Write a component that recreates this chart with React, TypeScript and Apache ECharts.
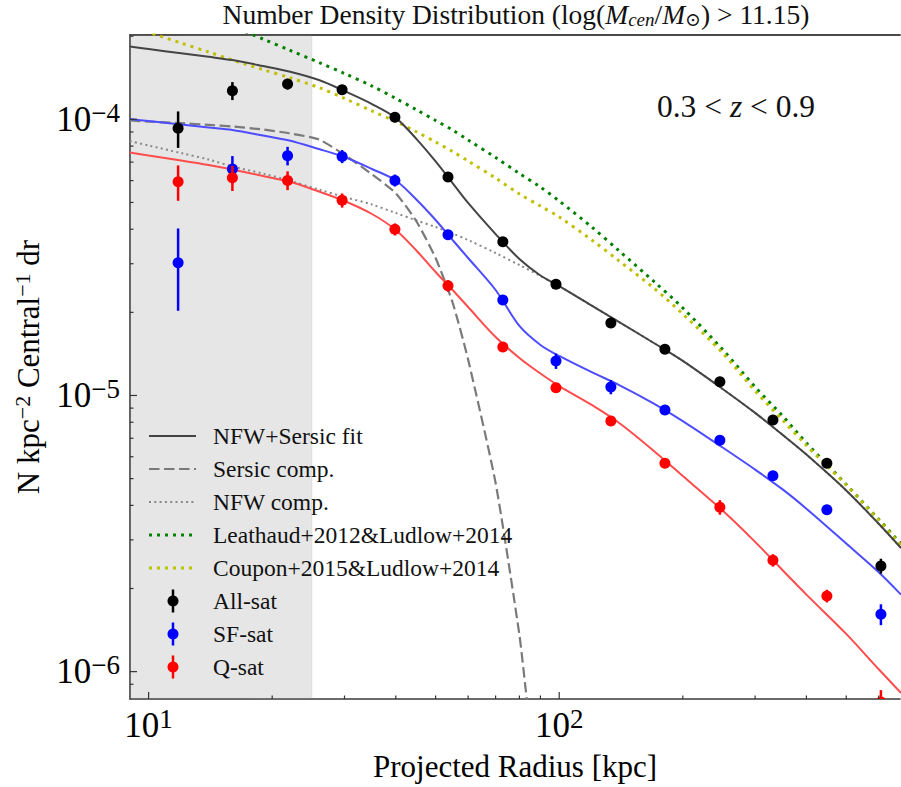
import React, { useEffect, useRef } from "react";
import * as echarts from "echarts";

// ---------------- data ----------------
const radii = [11.8, 16.0, 21.8, 29.6, 39.8, 53.6, 72.9, 98.2, 133.6, 180.9, 246.2, 331.5, 448.6, 607.4];
const allSat = [9.28e-5, 1.269e-4, 1.342e-4, 1.28e-4, 1.017e-4, 6.18e-5, 3.6e-5, 2.527e-5, 1.83e-5, 1.47e-5, 1.122e-5, 8.15e-6, 5.68e-6, 2.414e-6];
const allSatErr = [1.4e-5, 9.5e-6, 6e-6, 4.5e-6, 3.5e-6, 2e-6, 1e-6, 6e-7, 4e-7, 3e-7, 2.5e-7, 2e-7, 1.5e-7, 1.5e-7];
const sfSat = [3.026e-5, 6.61e-5, 7.38e-5, 7.34e-5, 6.01e-5, 3.82e-5, 2.217e-5, 1.333e-5, 1.074e-5, 8.86e-6, 6.88e-6, 5.12e-6, 3.86e-6, 1.613e-6];
const sfSatErr = [1.0e-5, 7.5e-6, 5.7e-6, 4e-6, 3e-6, 1.5e-6, 9e-7, 8.5e-7, 6.4e-7, 3e-7, 2e-7, 1.5e-7, 1.2e-7, 1.4e-7];
const qSat = [5.94e-5, 6.14e-5, 6.01e-5, 5.09e-5, 3.996e-5, 2.497e-5, 1.498e-5, 1.067e-5, 8.08e-6, 5.68e-6, 3.94e-6, 2.53e-6, 1.88e-6, 7.77e-7];
const qSatErr = [8.7e-6, 6.4e-6, 4.7e-6, 3e-6, 2e-6, 1.2e-6, 6e-7, 4e-7, 3e-7, 2e-7, 2.4e-7, 1.3e-7, 1e-7, 8e-8];

const modelRadii = [9, 10, 12, 14, 16, 19, 22, 26, 30, 35, 40, 45, 50, 55, 60, 70, 80, 90, 100, 120, 140, 170, 200, 250, 300, 350, 400, 500, 600, 680];
const fitAll = [1.835e-4, 1.797e-4, 1.735e-4, 1.684e-4, 1.639e-4, 1.56e-4, 1.491e-4, 1.388e-4, 1.266e-4, 1.136e-4, 1.012e-4, 8.46e-5, 7.04e-5, 5.88e-5, 4.98e-5, 3.84e-5, 3.12e-5, 2.72e-5, 2.49e-5, 2.117e-5, 1.845e-5, 1.549e-5, 1.334e-5, 1.056e-5, 8.65e-6, 7.2e-6, 6.11e-6, 4.53e-6, 3.43e-6, 2.8e-6];
const fitSF = [1.0025e-4, 9.859e-5, 9.576e-5, 9.34e-5, 9.147e-5, 8.737e-5, 8.38e-5, 7.805e-5, 7.305e-5, 6.607e-5, 6.005e-5, 5.103e-5, 4.319e-5, 3.656e-5, 3.146e-5, 2.41e-5, 1.785e-5, 1.524e-5, 1.39e-5, 1.214e-5, 1.091e-5, 9.35e-6, 8.08e-6, 6.48e-6, 5.39e-6, 4.57e-6, 3.89e-6, 2.91e-6, 2.29e-6, 1.9e-6];
const fitQ = [7.581e-5, 7.395e-5, 7.094e-5, 6.832e-5, 6.578e-5, 6.233e-5, 5.953e-5, 5.476e-5, 5.06e-5, 4.541e-5, 3.973e-5, 3.336e-5, 2.799e-5, 2.41e-5, 2.091e-5, 1.628e-5, 1.367e-5, 1.201e-5, 1.082e-5, 9.24e-6, 7.95e-6, 6.3e-6, 5.11e-6, 3.83e-6, 2.95e-6, 2.33e-6, 1.9e-6, 1.37e-6, 1.02e-6, 8.37e-7];
const nfwComp = [8.345e-5, 8.038e-5, 7.551e-5, 7.154e-5, 6.747e-5, 6.364e-5, 6.004e-5, 5.568e-5, 5.233e-5, 4.914e-5, 4.578e-5, 4.301e-5, 4.074e-5, 3.859e-5, 3.656e-5, 3.28e-5, 2.968e-5, 2.708e-5, 2.49e-5, 2.117e-5, 1.845e-5, 1.549e-5, 1.334e-5, 1.056e-5, 8.65e-6, 7.2e-6, 6.11e-6, 4.53e-6, 3.43e-6, 2.8e-6];
const sersicRadii = [9, 10, 12, 14, 16, 19, 22, 26, 30, 35, 40, 45, 50, 55, 60, 70, 80, 83.3, 86];
const sersicComp = [9.901e-5, 9.818e-5, 9.681e-5, 9.552e-5, 9.417e-5, 9.185e-5, 8.906e-5, 8.451e-5, 7.439e-5, 6.322e-5, 5.397e-5, 4.248e-5, 3.146e-5, 2.171e-5, 1.349e-5, 4.82e-6, 1.358e-6, 8.03e-7, 5.3e-7];
const leauthaudRadii = [14, 16, 19, 22, 26, 30, 35, 40, 45, 50, 55, 60, 70, 80, 90, 100, 120, 140, 170, 200, 250, 300, 350, 400, 500, 600, 680];
const leauthaud = [2.366e-4, 2.168e-4, 1.953e-4, 1.782e-4, 1.606e-4, 1.465e-4, 1.32e-4, 1.19e-4, 1.081e-4, 9.901e-5, 9.148e-5, 8.415e-5, 7.274e-5, 6.365e-5, 5.686e-5, 5.06e-5, 4.074e-5, 3.336e-5, 2.587e-5, 2.074e-5, 1.467e-5, 1.074e-5, 8.43e-6, 6.73e-6, 4.76e-6, 3.56e-6, 2.9e-6];
const coupon = [2.177e-4, 2.065e-4, 1.889e-4, 1.753e-4, 1.639e-4, 1.514e-4, 1.417e-4, 1.303e-4, 1.19e-4, 1.072e-4, 9.818e-5, 8.995e-5, 8.276e-5, 7.646e-5, 7.063e-5, 6.129e-5, 5.365e-5, 4.853e-5, 4.428e-5, 3.656e-5, 3.069e-5, 2.449e-5, 1.973e-5, 1.425e-5, 1.038e-5, 8.15e-6, 6.59e-6, 4.74e-6, 3.54e-6, 2.87e-6];

const shadeMaxRadius = 25;
const xMajorTicks = [10, 100];
const xMinorTicks = [20, 30, 40, 50, 60, 70, 80, 90, 200, 300, 400, 500, 600];
const yMajorTicks = [1e-6, 1e-5, 1e-4];
const yMinorTicks = [9e-7, 2e-6, 3e-6, 4e-6, 5e-6, 6e-6, 7e-6, 8e-6, 9e-6, 2e-5, 3e-5, 4e-5, 5e-5, 6e-5, 7e-5, 8e-5, 9e-5, 2e-4];

const legendLabels = ["NFW+Sersic fit", "Sersic comp.", "NFW comp.", "Leathaud+2012&Ludlow+2014", "Coupon+2015&Ludlow+2014", "All-sat", "SF-sat", "Q-sat"];

const X_MIN = 9.01;
const X_MAX = 676;
const Y_MIN = 7.96e-7;
const Y_MAX = 2.02e-4;

// ---------------- styles ----------------
const FONT = "Liberation Serif, DejaVu Serif, serif";
const C_FIT = "#444444";
const C_SF = "#4d4dff";
const C_Q = "#ff4d4d";
const lineStyles = [
  { color: C_FIT, width: 2, dash: null as number[] | null },
  { color: "#7a7a7a", width: 2.2, dash: [10.5, 4.5] },
  { color: "#888888", width: 2, dash: [2, 3.3] },
  { color: "#008000", width: 3, dash: [3, 5] },
  { color: "#bfbf00", width: 3, dash: [3, 5] },
];
const pointColors = ["#000000", "#0000ff", "#ff0000"];

const pairs = (xs: number[], ys: number[]) => xs.map((x, i) => [x, ys[i]]);

function lineSeries(name: string, data: number[][], st: any, z: number, smooth: number | boolean = false) {
  return {
    type: "line",
    name,
    data,
    showSymbol: false,
    symbol: "none",
    clip: true,
    silent: true,
    smooth,
    z,
    lineStyle: { color: st.color, width: st.width, type: st.dash || "solid", cap: "butt" },
  };
}

function errSeries(name: string, vals: number[], errs: number[], color: string) {
  return {
    type: "custom",
    name,
    clip: true,
    silent: true,
    z: 6,
    data: radii.map((r, i) => [r, vals[i], errs[i]]),
    renderItem: (_p: any, api: any) => {
      const r = api.value(0);
      const v = api.value(1);
      const e = api.value(2);
      const c = api.coord([r, v]);
      const top = api.coord([r, v + e]);
      const bot = api.coord([r, v - e]);
      return {
        type: "group",
        children: [
          { type: "line", shape: { x1: c[0], y1: top[1], x2: c[0], y2: bot[1] }, style: { stroke: color, lineWidth: 2.5 } },
          { type: "circle", shape: { cx: c[0], cy: c[1], r: 5.5 }, style: { fill: color } },
        ],
      };
    },
  };
}

function powLabel(v: number) {
  const l = Math.log10(v);
  const e = Math.round(l);
  if (Math.abs(l - e) > 1e-4) return "";
  return `{b|10}{s|${e < 0 ? "\u2212" : ""}${Math.abs(e)}}`;
}

const labelRich = {
  b: { fontSize: 35, fontFamily: FONT, color: "#000", lineHeight: 40 },
  s: { fontSize: 27, fontFamily: FONT, color: "#000", lineHeight: 18, verticalAlign: "top" },
};

export default function App() {
  const ref = useRef<HTMLDivElement>(null);
  useEffect(() => {
    if (!ref.current) return;
    const chart = echarts.init(ref.current, undefined, { renderer: "svg" });

    const tickData = [
      ...xMajorTicks.map((v) => [v, Y_MIN, 0]),
      ...xMinorTicks.map((v) => [v, Y_MIN, 1]),
      ...yMajorTicks.map((v) => [X_MIN, v, 2]),
      ...yMinorTicks.map((v) => [X_MIN, v, 3]),
    ];

    const legendTop = 436;
    const legendStep = 33;
    const legendEls: any[] = [];
    legendLabels.forEach((lab, i) => {
      const y = legendTop + legendStep * i;
      if (i < 5) {
        const st = lineStyles[i];
        legendEls.push({
          type: "line",
          shape: { x1: 149, y1: y, x2: 196, y2: y },
          style: { stroke: st.color, lineWidth: st.width, lineDash: st.dash || undefined, lineCap: "butt" },
          z: 100,
        });
      } else {
        const col = pointColors[i - 5];
        legendEls.push({ type: "line", shape: { x1: 173, y1: y - 11.5, x2: 173, y2: y + 11.5 }, style: { stroke: col, lineWidth: 2.5 }, z: 100 });
        legendEls.push({ type: "circle", shape: { cx: 173, cy: y, r: 5.5 }, style: { fill: col }, z: 100 });
      }
      legendEls.push({
        type: "text",
        x: 213,
        y,
        z: 100,
        style: { text: lab, fontSize: 23.5, fontFamily: FONT, fill: "#111", textAlign: "left", textVerticalAlign: "middle", align: "left", verticalAlign: "middle" },
      });
    });

    const option: any = {
      animation: false,
      backgroundColor: "#ffffff",
      grid: { left: 130, right: 1, top: 35, bottom: 88, outerBoundsMode: "none", containLabel: false },
      xAxis: [
        {
          type: "log",
          logBase: 10,
          min: X_MIN,
          max: X_MAX,
          position: "bottom",
          axisLine: { show: true, onZero: false, lineStyle: { color: "#3a3a3a", width: 1.6 } },
          axisTick: { show: false },
          minorTick: { show: false },
          splitLine: { show: false },
          axisLabel: { margin: 6, formatter: powLabel, rich: labelRich, showMinLabel: false, showMaxLabel: false },
          name: "Projected Radius [kpc]",
          nameLocation: "middle",
          nameGap: 50,
          nameTextStyle: { fontSize: 31, fontFamily: FONT, color: "#000", lineHeight: 34 },
        },
        {
          type: "log",
          logBase: 10,
          min: X_MIN,
          max: X_MAX,
          position: "top",
          axisLine: { show: true, onZero: false, lineStyle: { color: "#4a4a4a", width: 1.8 } },
          axisTick: { show: false },
          axisLabel: { show: false },
          splitLine: { show: false },
        },
      ],
      yAxis: {
        type: "log",
        logBase: 10,
        min: Y_MIN,
        max: Y_MAX,
        axisLine: { show: true, onZero: false, lineStyle: { color: "#3a3a3a", width: 1.6 } },
        axisTick: { show: false },
        minorTick: { show: false },
        splitLine: { show: false },
        axisLabel: { margin: 10, formatter: powLabel, rich: labelRich, showMinLabel: false, showMaxLabel: false },
        name: "N kpc{s|\u22122} Central{s|\u22121} dr",
        nameLocation: "middle",
        nameRotate: 90,
        nameGap: 82,
        nameTextStyle: {
          fontSize: 31,
          fontFamily: FONT,
          color: "#000",
          lineHeight: 34,
          rich: { s: { fontSize: 22, fontFamily: FONT, color: "#000", lineHeight: 16, verticalAlign: "top" } },
        },
      },
      graphic: [
        {
          type: "text",
          x: 516,
          y: 14,
          style: {
            text: "Number Density Distribution (log({i|M}{sub|cen}/{i|M}{sub|\u2299}) > 11.15)",
            fontSize: 27.5,
            fontFamily: FONT,
            fill: "#111",
            textAlign: "center",
            textVerticalAlign: "middle",
            align: "center",
            verticalAlign: "middle",
            rich: {
              i: { fontSize: 27.5, fontFamily: FONT, fontStyle: "italic", fill: "#111", lineHeight: 30 },
              sub: { fontSize: 19, fontFamily: FONT, fontStyle: "italic", fill: "#111", lineHeight: 14, verticalAlign: "bottom" },
            },
          },
        },
        {
          type: "text",
          x: 736,
          y: 106,
          style: {
            text: "0.3 < {i|z} < 0.9",
            fontSize: 31.5,
            fontFamily: FONT,
            fill: "#111",
            textAlign: "center",
            textVerticalAlign: "middle",
            align: "center",
            verticalAlign: "middle",
            rich: { i: { fontSize: 31.5, fontFamily: FONT, fontStyle: "italic", fill: "#111" } },
          },
        },
        ...legendEls,
      ],
      series: [
        {
          type: "line",
          name: "shade",
          data: [],
          silent: true,
          z: 0,
          markArea: {
            silent: true,
            itemStyle: { color: "rgba(128,128,128,0.2)", borderColor: "rgba(128,128,128,0.12)", borderWidth: 1 },
            data: [[{ xAxis: X_MIN }, { xAxis: shadeMaxRadius }]],
          },
        },
        lineSeries(legendLabels[3], pairs(leauthaudRadii, leauthaud), lineStyles[3], 2, 0.3),
        lineSeries(legendLabels[4], pairs(modelRadii, coupon), lineStyles[4], 2, 0.3),
        lineSeries(legendLabels[2], pairs(modelRadii, nfwComp), lineStyles[2], 3, 0.3),
        lineSeries(legendLabels[1], pairs(sersicRadii, sersicComp), lineStyles[1], 3, 0.2),
        lineSeries(legendLabels[0], pairs(modelRadii, fitAll), lineStyles[0], 4, 0.3),
        lineSeries("SF fit", pairs(modelRadii, fitSF), { color: C_SF, width: 2 }, 4, 0.3),
        lineSeries("Q fit", pairs(modelRadii, fitQ), { color: C_Q, width: 2 }, 4, 0.3),
        errSeries(legendLabels[5], allSat, allSatErr, pointColors[0]),
        errSeries(legendLabels[6], sfSat, sfSatErr, pointColors[1]),
        errSeries(legendLabels[7], qSat, qSatErr, pointColors[2]),
        {
          type: "custom",
          name: "ticks",
          silent: true,
          clip: false,
          z: 8,
          data: tickData,
          renderItem: (_p: any, api: any) => {
            const kind = api.value(2);
            const p = api.coord([api.value(0), api.value(1)]);
            const len = kind % 2 === 0 ? 7 : 3.5;
            if (kind < 2) {
              return { type: "line", shape: { x1: p[0], y1: p[1], x2: p[0], y2: p[1] - len }, style: { stroke: "#333", lineWidth: 1.2 } };
            }
            return { type: "line", shape: { x1: p[0], y1: p[1], x2: p[0] + len, y2: p[1] }, style: { stroke: "#333", lineWidth: 1.2 } };
          },
        },
      ],
    };

    chart.setOption(option);
    return () => {
      chart.dispose();
    };
  }, []);

  return <div ref={ref} style={{ position: "fixed", left: 0, top: 0, width: 901, height: 787, background: "#fff" }} />;
}
